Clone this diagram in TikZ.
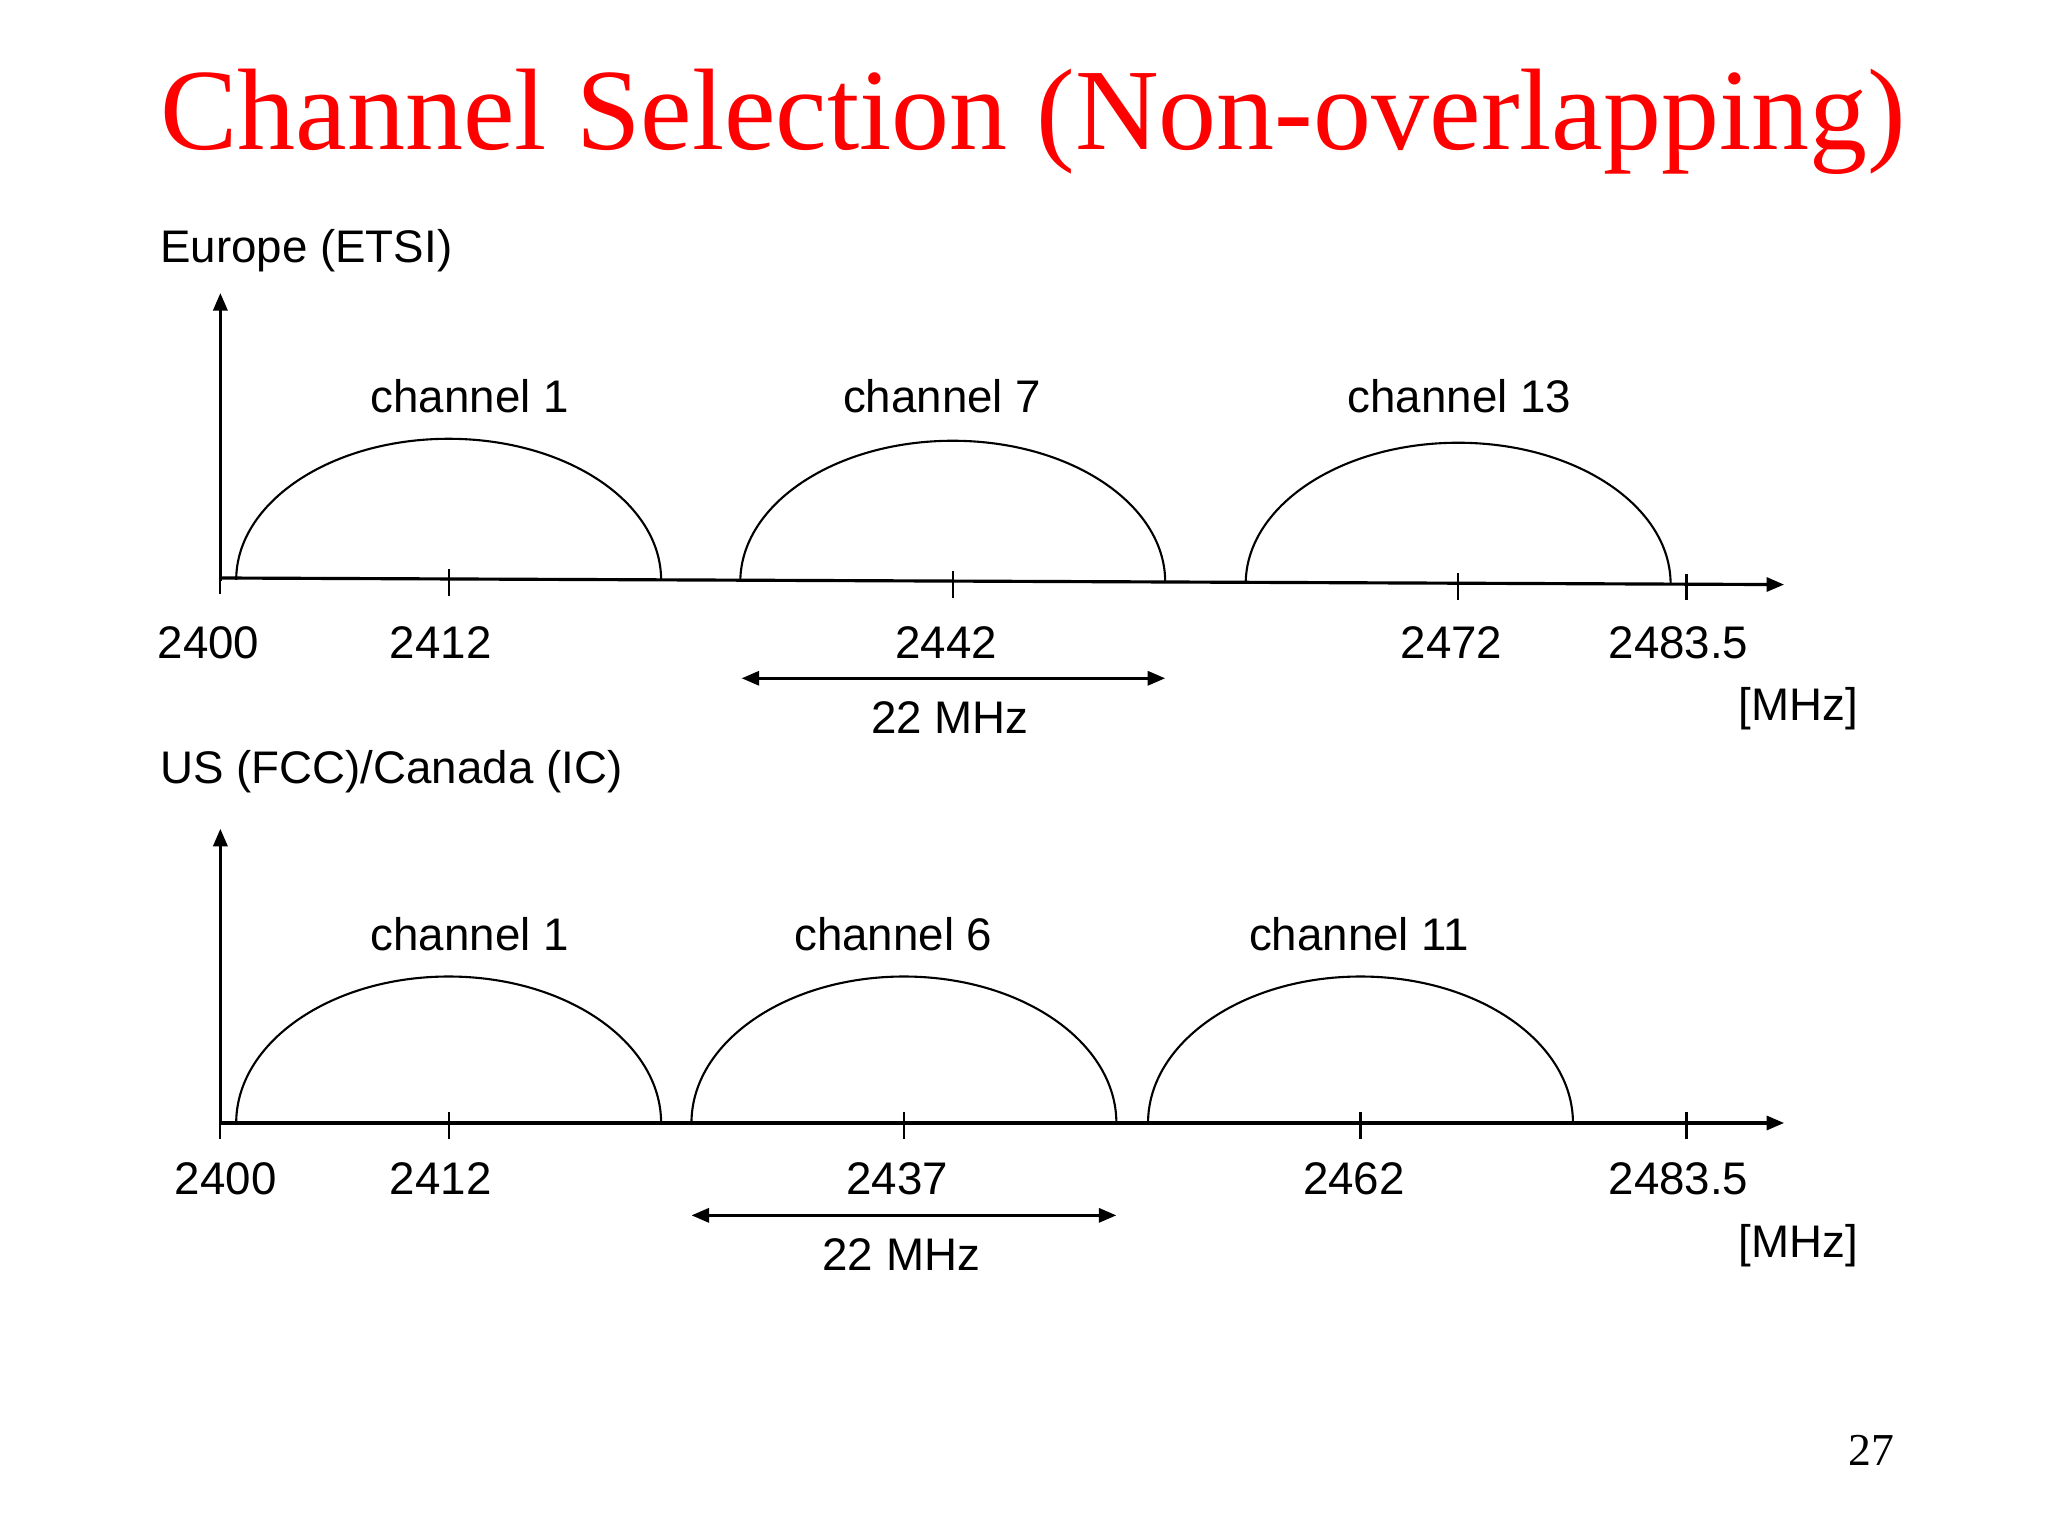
\documentclass[tikz,border=0pt]{standalone}
\usepackage{fontspec}
\setmainfont{Liberation Serif}
\setsansfont{Liberation Sans}
\usetikzlibrary{arrows.meta}
\begin{document}
\begin{tikzpicture}[x=0.013196cm,y=-0.013196cm,
  lbl/.style={font=\sffamily\fontsize{13}{15}\selectfont,inner sep=0pt},
  ax/.style={line width=0.9pt,-{Triangle[length=5pt,width=4pt]}},
  arc/.style={line width=0.6pt},
  tk/.style={line width=0.6pt},
  dim/.style={line width=0.9pt,{Triangle[length=5pt,width=4pt]}-{Triangle[length=5pt,width=4pt]}}]
\useasboundingbox (0,0) rectangle (1552,1164);
\node[text=red,font=\fontsize{33}{38}\selectfont,inner sep=0pt] (title) at (783,92) {Channel Selection (Non-overlapping)};
\node[font=\fontsize{13}{15}\selectfont,inner sep=0pt] (pg) at (1418,1099) {27};

% Europe
\node[lbl,anchor=west] (eu) at (121,190) {Europe (ETSI)};
\coordinate (o1) at (167,440);
\coordinate (y1) at (167,222);
\coordinate (xs1) at (167,438);
\coordinate (x1) at (1352,443);
\draw[ax] (o1) -- (y1);
\draw[ax] (xs1) -- (x1);
\foreach \x/\y in {167/438,340/439.5,722/441,1105/442.5,1278/443}
  \draw[tk] (\x,\y-8) -- (\x,\y+12);
\foreach \c/\yb in {340/439.5,722/441,1105/442.5}
  \draw[arc] (\c-161,\yb) arc[start angle=180,end angle=360,x radius=161,y radius=107];
\node[lbl] (c1) at (356,300) {channel 1};
\node[lbl] (c7) at (714,300) {channel 7};
\node[lbl] (c13) at (1106,300) {channel 13};
\node[lbl] (a1) at (158,487) {2400};
\node[lbl] (a2) at (334,487) {2412};
\node[lbl] (a3) at (717,487) {2442};
\node[lbl] (a4) at (1100,487) {2472};
\node[lbl] (a5) at (1272,487) {2483.5};
\coordinate (d1l) at (562,514);
\coordinate (d1r) at (883,514);
\draw[dim] (d1l) -- (d1r);
\node[lbl] (m1) at (720,544) {22 MHz};
\node[lbl] (u1) at (1363,537) {[MHz]};

% US
\node[lbl,anchor=west] (us) at (121,585) {US (FCC)/Canada (IC)};
\coordinate (o2) at (167,851);
\coordinate (y2) at (167,628);
\coordinate (x2) at (1352,851);
\draw[ax] (o2) -- (y2);
\draw[ax] (o2) -- (x2);
\foreach \x in {167,340,685,1031,1278}
  \draw[tk] (\x,843) -- (\x,863);
\foreach \c in {340,685,1031}
  \draw[arc] (\c-161,851) arc[start angle=180,end angle=360,x radius=161,y radius=111];
\node[lbl] (b1) at (356,708) {channel 1};
\node[lbl] (b6) at (677,708) {channel 6};
\node[lbl] (b11) at (1030,708) {channel 11};
\node[lbl] (n1) at (171,893) {2400};
\node[lbl] (n2) at (334,893) {2412};
\node[lbl] (n3) at (680,893) {2437};
\node[lbl] (n4) at (1026,893) {2462};
\node[lbl] (n5) at (1272,893) {2483.5};
\coordinate (d2l) at (524,921);
\coordinate (d2r) at (846,921);
\draw[dim] (d2l) -- (d2r);
\node[lbl] (m2) at (683,951) {22 MHz};
\node[lbl] (u2) at (1363,944) {[MHz]};
\end{tikzpicture}
\end{document}
